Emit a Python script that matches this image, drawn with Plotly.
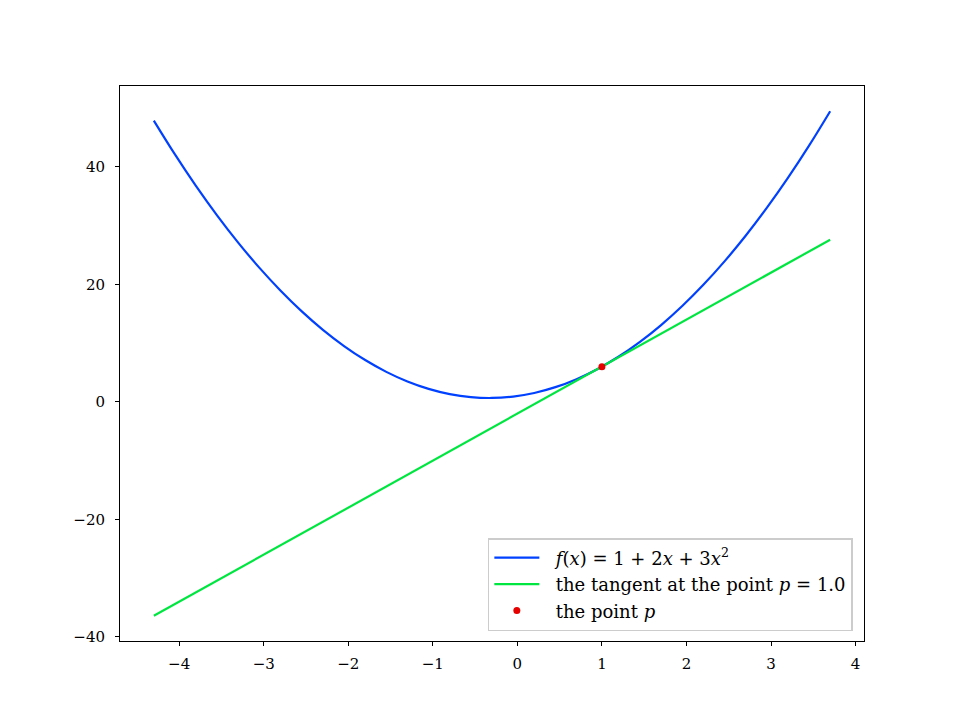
import plotly.graph_objects as go

# curve samples of f(x) = 1 + 2x + 3x^2
curve_x = [-4.3, -4.05, -3.8, -3.55, -3.3, -3.05, -2.8, -2.55, -2.3, -2.05, -1.8,
           -1.55, -1.3, -1.05, -0.8, -0.55, -0.3, -0.05, 0.2, 0.45, 0.7, 0.95,
           1.2, 1.45, 1.7, 1.95, 2.2, 2.45, 2.7, 2.95, 3.2, 3.45, 3.7]
curve_y = [47.87, 42.11, 36.72, 31.71, 27.07, 22.81, 18.92, 15.41, 12.27, 9.51, 7.12,
           5.11, 3.47, 2.21, 1.32, 0.81, 0.67, 0.91, 1.52, 2.51, 3.87, 5.61,
           7.72, 10.21, 13.07, 16.31, 19.92, 23.91, 28.27, 33.01, 38.12, 43.61, 49.47]

tangent_x = [-4.3, 3.7]
tangent_y = [-36.4, 27.6]

point_x = [1.0]
point_y = [6.0]

x_ticks = [-4, -3, -2, -1, 0, 1, 2, 3, 4]
y_ticks = [-40, -20, 0, 20, 40]

FONT = "DejaVu Serif, Liberation Serif, serif"
PAD = "&nbsp;&nbsp;"

fig = go.Figure()
fig.add_trace(go.Scatter(x=curve_x, y=curve_y, mode="lines", line=dict(color="#0040ff", width=2.2, shape="spline"),
                         name=PAD + "<i>f</i>(<i>x</i>) = 1 + 2<i>x</i> + 3<i>x</i><sup>2</sup>"))
fig.add_trace(go.Scatter(x=tangent_x, y=tangent_y, mode="lines", line=dict(color="#00e640", width=2.2),
                         name=PAD + "the tangent at the point <i>p</i> = 1.0"))
fig.add_trace(go.Scatter(x=point_x, y=point_y, mode="markers", marker=dict(color="#e60000", size=7),
                         name=PAD + "the point <i>p</i>"))

axis_common = dict(showgrid=False, zeroline=False, showline=True, linecolor="black", linewidth=1,
                   mirror=True, ticks="outside", ticklen=4, tickcolor="black", tickwidth=1,
                   tickfont=dict(family=FONT, size=15, color="black"))

fig.update_layout(
    width=960, height=720,
    margin=dict(l=112, r=104, t=78, b=87),
    paper_bgcolor="white", plot_bgcolor="white",
    font=dict(family=FONT, size=15, color="black"),
    xaxis=dict(range=[-4.7, 4.1], tickvals=x_ticks, ticklabelstandoff=5, **axis_common),
    yaxis=dict(range=[-40.69, 53.76], tickvals=y_ticks, ticklabelstandoff=7, **axis_common),
    legend=dict(x=0.985, y=0.018, xanchor="right", yanchor="bottom",
                bgcolor="rgba(255,255,255,0.8)", bordercolor="#cccccc", borderwidth=1.5,
                font=dict(family=FONT, size=18), itemwidth=45),
    showlegend=True,
)

fig.write_html("out.html")
